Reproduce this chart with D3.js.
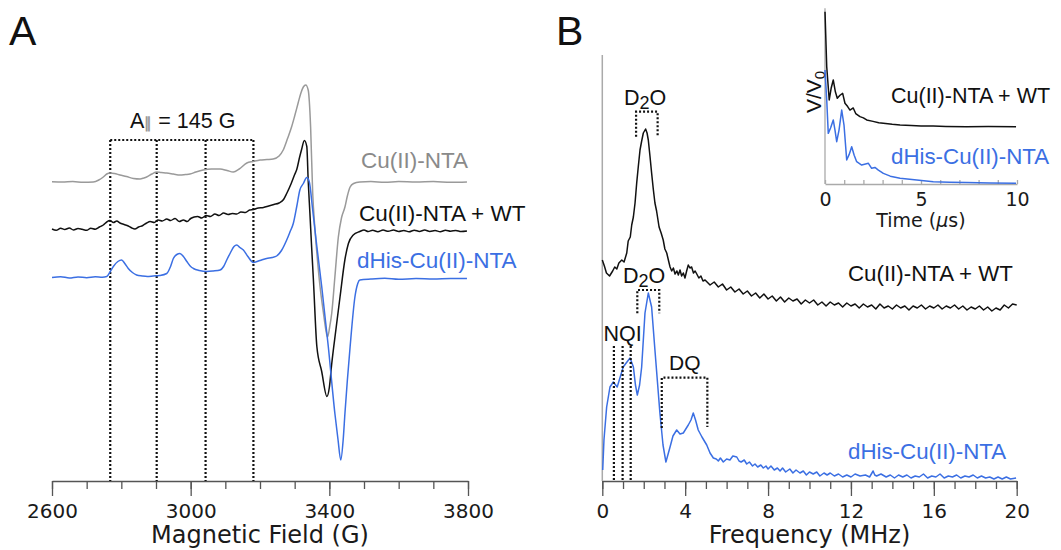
<!DOCTYPE html>
<html><head><meta charset="utf-8">
<script src="https://cdn.jsdelivr.net/npm/d3@7"></script>
<style>body{margin:0;background:#fff}svg{display:block}</style>
</head><body>
<svg id="c" width="1061" height="550"></svg>
<script>
// ---------------- DATA ----------------
const fieldMajorTicks = [2600, 3000, 3400, 3800];
const fieldMinorTicks = d3.range(2600, 3801, 100);
const freqMajorTicks = [0, 4, 8, 12, 16, 20];
const freqMinorTicks = d3.range(0, 21, 1);
const timeMajorTicks = [0, 5, 10];
const timeMinorTicks = d3.range(0, 11, 1);

const eprSeriesNames = ["Cu(II)-NTA", "Cu(II)-NTA + WT", "dHis-Cu(II)-NTA"];
const eprStackOffsets = [299, 251.5, 203.5];

// [field (G), first-derivative signal]
const eprCuNTA = [[2600,0.3],[2630,0],[2660,0.5],[2690,-0.3],[2719,0],[2735,2],[2748,5],[2758,8],[2767,9],[2780,8.5],[2796,7],[2815,5.5],[2835,3.5],[2854,3],[2865,4],[2873,5],[2888,8],[2902,10],[2915,9.5],[2931,9],[2950,8],[2969,7],[2985,7.5],[2998,8],[3015,10],[3036,12],[3060,13],[3085,13],[3105,11.5],[3123,10],[3140,13],[3162,19],[3180,20.5],[3200,22],[3220,22.5],[3238,23],[3255,26],[3267,32],[3280,44],[3291,55],[3300,66],[3310,79],[3318,89],[3325,95],[3332,97],[3339,92],[3346,55],[3352,-11],[3358,-45],[3364,-71],[3373,-104],[3383,-131],[3390,-148],[3395,-155],[3401,-145],[3407,-131],[3416,-95],[3426,-55],[3435,-36],[3445,-25],[3452,-14],[3460,-5],[3470,-1.5],[3488,0],[3520,0.5],[3560,-0.3],[3600,0.5],[3650,0],[3700,0.4],[3750,-0.3],[3797,0]];

const eprCuNTA_WT = [[2600,0.5],[2612,-0.8],[2625,1.2],[2637,0],[2650,1.5],[2662,-0.5],[2675,1],[2687,0.2],[2700,-0.8],[2712,1.3],[2725,0.3],[2737,2.5],[2748,4.5],[2758,7.5],[2767,9],[2777,7],[2787,8.5],[2796,6.5],[2808,5],[2820,3.5],[2830,1.5],[2839,0.5],[2850,2.5],[2862,4],[2873,6.5],[2883,8],[2895,7],[2906,9.5],[2918,8.5],[2931,10.5],[2942,9],[2955,11],[2967,8],[2979,9.5],[2990,8],[3000,11],[3010,12.5],[3020,13],[3032,11.5],[3045,14],[3057,13],[3070,15.5],[3082,14],[3095,16.5],[3108,15],[3120,16],[3133,15.5],[3145,17.5],[3158,17],[3170,19.5],[3181,20],[3195,21.5],[3210,22],[3225,23.5],[3240,25],[3255,26.5],[3268,30],[3277,36],[3290,46],[3300,55],[3306,60],[3314,72],[3320,80],[3328,89],[3335,83],[3339,49],[3344,16],[3349,-18],[3354,-50],[3364,-117],[3378,-142],[3393,-167],[3400,-158],[3407,-134],[3419,-100],[3431,-67],[3445,-30],[3455,-14],[3469,-5.5],[3488,-2],[3500,-0.5],[3512,-2],[3525,-0.8],[3540,-2.2],[3555,-0.6],[3570,-1.8],[3585,-0.5],[3600,-2],[3615,-1],[3630,-2.3],[3645,-0.7],[3660,-1.9],[3675,-0.6],[3690,-2],[3705,-1.1],[3720,-2.2],[3735,-0.8],[3750,-1.8],[3765,-0.9],[3780,-2],[3797,-1.5]];

const eprDHis = [[2600,0],[2625,0.8],[2650,-0.5],[2675,0.6],[2700,-0.2],[2725,0.7],[2745,0.3],[2758,1],[2768,6],[2777,11],[2790,16],[2801,17.5],[2810,14],[2820,9],[2832,5],[2844,2.5],[2860,1.5],[2875,1],[2892,1.5],[2910,2],[2931,4],[2942,11],[2950,19],[2960,23],[2969,24],[2979,21],[2989,16],[3000,11],[3008,9],[3025,7],[3046,6],[3065,6.5],[3085,7.5],[3095,11],[3104,17.5],[3115,25],[3125,31],[3133,32.5],[3142,30],[3152,27.5],[3165,21],[3181,15],[3200,17],[3219,19],[3235,20],[3248,21.5],[3262,27],[3277,37.5],[3287,46],[3296,54],[3306,71],[3315,87.5],[3325,94],[3335,100],[3342,96],[3352,67.5],[3364,31],[3378,-9],[3397,-69],[3416,-136],[3425,-162],[3433,-182.5],[3440,-162],[3445,-136],[3460,-69],[3474,-19],[3482,-6],[3488,-2.5],[3520,-1.5],[3560,-0.8],[3600,-1.8],[3650,-1],[3700,-1.6],[3750,-0.9],[3797,-1]];

const hyperfineFields = [2768, 2902, 3043, 3181];

// ESEEM spectra: [frequency (MHz), intensity]
const fftStackOffsets = [170, 0];
const fftWT = [[0,51],[0.1,45],[0.2,38],[0.35,35],[0.5,40],[0.6,44],[0.7,42],[0.8,48],[0.94,51],[1.05,49],[1.18,58],[1.25,70],[1.35,74],[1.42,86],[1.5,94],[1.58,108],[1.66,128],[1.74,145],[1.82,161],[1.9,170],[1.98,178],[2.09,182],[2.16,178],[2.22,171],[2.3,155],[2.38,138],[2.46,122],[2.54,108],[2.62,100],[2.74,84],[2.84,78],[2.94,71],[3.02,62],[3.11,58],[3.2,50],[3.27,44],[3.35,40],[3.43,43],[3.51,37],[3.6,40],[3.67,36],[3.75,41],[3.83,35],[3.91,38],[3.99,33],[4.07,40],[4.15,46],[4.23,43],[4.31,44],[4.4,38],[4.48,40],[4.56,37],[4.66,33],[4.76,35],[4.86,30],[4.96,31],[5.2,26],[5.4,29],[5.6,24],[5.8,27],[6.0,21],[6.2,24],[6.4,19],[6.6,22],[6.8,17],[7.0,20],[7.2,15],[7.4,18],[7.6,13],[7.8,17],[8.0,12],[8.2,15],[8.4,10],[8.6,14],[8.8,9],[9.0,13],[9.2,10],[9.4,12],[9.6,7],[9.8,11],[10.0,8],[10.2,11],[10.4,6],[10.6,9],[10.8,5],[11.0,9],[11.2,6],[11.4,8],[11.6,4],[11.8,8],[12.0,5],[12.2,7],[12.4,3],[12.6,7],[12.8,4],[13.0,6],[13.2,2],[13.4,7],[13.6,3],[13.8,5],[14.0,2],[14.2,6],[14.4,3],[14.6,5],[14.8,1],[15.0,5],[15.2,3],[15.4,6],[15.6,2],[15.8,5],[16.0,3],[16.2,6],[16.4,2],[16.6,5],[16.8,3],[17.0,6],[17.2,2],[17.4,5],[17.6,1],[17.8,4],[18.0,2],[18.2,5],[18.4,1],[18.6,4],[18.8,0],[19.0,3],[19.2,1],[19.4,6],[19.6,3],[19.8,7],[20.0,6]];

const fftDHis = [[0.02,11],[0.08,41],[0.21,74],[0.37,94],[0.53,99],[0.72,94],[0.85,103],[1.01,114],[1.19,119],[1.34,123],[1.5,114],[1.6,96],[1.69,86],[1.8,96],[1.9,114],[2.06,168],[2.22,188],[2.38,174],[2.54,131],[2.78,68],[2.93,36],[3.07,19],[3.27,34],[3.41,45],[3.59,51],[3.75,47],[3.91,48],[4.15,56],[4.28,61],[4.39,68],[4.5,61],[4.63,51],[4.81,44],[5.04,36],[5.2,28],[5.36,23],[5.5,22],[5.6,20],[5.7,23],[5.84,19],[6.0,22],[6.16,21],[6.3,25],[6.49,24],[6.6,20],[6.7,19],[6.85,21],[6.97,17],[7.1,19],[7.25,15],[7.37,17],[7.5,14],[7.65,16],[7.77,13],[7.9,15],[8.0,12],[8.14,15],[8.3,11],[8.45,13],[8.58,10],[8.7,13],[8.85,9],[9.05,12],[9.2,8],[9.35,11],[9.54,8],[9.7,10],[9.85,6],[10.0,9],[10.18,7],[10.35,9],[10.5,5],[10.7,8],[10.85,6],[11.0,8],[11.2,5],[11.4,7],[11.6,4],[11.8,6],[12.0,4],[12.2,7],[12.44,5],[12.7,6],[12.9,4],[13.07,10],[13.15,6],[13.24,5],[13.45,7],[13.7,4],[13.9,6],[14.1,3],[14.3,6],[14.5,4],[14.7,6],[14.9,3],[15.1,5],[15.3,4],[15.5,7],[15.7,3],[15.9,5],[16.1,4],[16.3,7],[16.5,3],[16.7,5],[16.9,4],[17.1,6],[17.3,3],[17.5,5],[17.7,4],[17.9,6],[18.1,3],[18.3,5],[18.5,3],[18.7,4],[18.9,2],[19.1,4],[19.3,2],[19.5,4],[19.7,2],[19.97,3]];

const nqiFreqs = [0.56, 0.98, 1.37];
const d2oRange = [1.66, 2.7];
const dqRange = [2.87, 5.07];

// Time-domain (inset): [time (us), V/V0]
const tdWT = [[0,0.99],[0.09,0.674],[0.22,0.483],[0.32,0.55],[0.43,0.598],[0.54,0.53],[0.64,0.493],[0.78,0.51],[0.92,0.521],[1.04,0.464],[1.18,0.445],[1.3,0.425],[1.47,0.437],[1.6,0.405],[1.82,0.387],[2.0,0.38],[2.17,0.368],[2.5,0.36],[2.8,0.352],[3.04,0.349],[3.5,0.343],[3.91,0.339],[4.5,0.336],[5.0,0.334],[5.64,0.333],[6.3,0.331],[7.38,0.329],[8.5,0.33],[9.95,0.329]];
const tdDHis = [[0,0.655],[0.09,0.483],[0.17,0.291],[0.29,0.322],[0.43,0.368],[0.52,0.31],[0.61,0.243],[0.73,0.31],[0.87,0.425],[0.99,0.339],[1.13,0.138],[1.26,0.17],[1.39,0.214],[1.52,0.165],[1.65,0.128],[1.91,0.109],[2.26,0.119],[2.43,0.09],[2.6,0.095],[2.78,0.08],[3.04,0.061],[3.4,0.045],[3.91,0.033],[4.78,0.023],[5.64,0.013],[6.5,0.01],[7.38,0.008],[8.6,0.006],[9.95,0.004]];

// ---------------- DRAWING ----------------
const svg = d3.select("#c");
const AX = "DejaVu Sans, sans-serif";
const LB = "Liberation Sans, Arial, Helvetica, sans-serif";
const BLUE = "#3b6fe3", GRAY = "#9a9a9a", GRAYTXT = "#8a8a8a", BLACK = "#111";

const xA = d3.scaleLinear().domain([2600, 3800]).range([52, 468]);
const yA = d3.scaleLinear().domain([0, 450]).range([481, 31]);
const xB = d3.scaleLinear().domain([0, 20]).range([602.3, 1016.7]);
const yB = d3.scaleLinear().domain([0, 426]).range([481, 55]);
const xI = d3.scaleLinear().domain([0, 10]).range([825, 1017]);
const yI = d3.scaleLinear().domain([0, 1]).range([184, 10]);

function styleAxis(g, color) {
  g.select(".domain").attr("stroke", color).attr("stroke-width", 1.3);
  g.selectAll(".tick line").attr("stroke", color).attr("stroke-width", 1.3);
  g.selectAll(".tick text").attr("fill", "#1a1a1a");
}

function bottomAxis(scale, minor, major, y, fs) {
  const g1 = svg.append("g").attr("transform", `translate(0,${y})`)
    .call(d3.axisBottom(scale).tickValues(minor).tickSize(8).tickSizeOuter(0).tickFormat(""));
  styleAxis(g1, "#555");
  const g2 = svg.append("g").attr("transform", `translate(0,${y})`)
    .call(d3.axisBottom(scale).tickValues(major).tickSize(15).tickSizeOuter(0).tickPadding(8).tickFormat(d3.format("d")));
  g2.select(".domain").remove();
  styleAxis(g2, "#555");
  g2.selectAll(".tick text").attr("font-family", AX).attr("font-size", fs);
}

// Panel A
bottomAxis(xA, fieldMinorTicks, fieldMajorTicks, 481, 20);
svg.append("text").attr("x", 260).attr("y", 543).attr("text-anchor", "middle")
  .attr("font-family", AX).attr("font-size", 24).attr("fill", "#1a1a1a").text("Magnetic Field (G)");

// dotted hyperfine lines
const dot = sel => sel.attr("stroke", "#111").attr("stroke-width", 2.2).attr("stroke-dasharray", "2,2").attr("fill", "none");
const topVal = 341;
svg.append("g").selectAll("line").data(hyperfineFields).join("line")
  .attr("x1", d => xA(d)).attr("x2", d => xA(d)).attr("y1", yA(topVal)).attr("y2", yA(0)).call(dot);
svg.append("line").attr("x1", xA(hyperfineFields[0])).attr("x2", xA(hyperfineFields[3]))
  .attr("y1", yA(topVal)).attr("y2", yA(topVal)).call(dot);

const lineA = (off) => d3.line().x(d => xA(d[0])).y(d => yA(d[1] + off)).curve(d3.curveMonotoneX);
const eprData = [eprCuNTA, eprCuNTA_WT, eprDHis];
const eprColors = [GRAY, BLACK, BLUE];
eprData.forEach((s, i) => {
  svg.append("path").datum(s).attr("d", lineA(eprStackOffsets[i])).attr("fill", "none")
    .attr("stroke", eprColors[i]).attr("stroke-width", 1.5).attr("stroke-linejoin", "round");
});

const aLabel = svg.append("text").attr("x", 130).attr("y", 128).attr("font-family", LB).attr("font-size", 21.5).attr("fill", "#111");
aLabel.append("tspan").text("A");
aLabel.append("tspan").attr("fill", "#999").attr("font-size", 15).attr("font-weight", "bold").text("\u2225");
aLabel.append("tspan").text(" = 145 G");

const eprLabelColors = [GRAYTXT, BLACK, BLUE];
const eprLabelY = [168, 221, 268];
const eprLabelX = [361, 359, 357];
eprSeriesNames.forEach((n, i) => {
  svg.append("text").attr("x", eprLabelX[i]).attr("y", eprLabelY[i]).attr("font-family", LB)
    .attr("font-size", 22.5).attr("fill", eprLabelColors[i]).text(n);
});

svg.append("text").attr("x", 9).attr("y", 45).attr("font-family", LB).attr("font-size", 41).attr("fill", "#111").text("A");
svg.append("text").attr("x", 556).attr("y", 45).attr("font-family", LB).attr("font-size", 41).attr("fill", "#111").text("B");

// Panel B
bottomAxis(xB, freqMinorTicks, freqMajorTicks, 481, 20);
svg.append("line").attr("x1", xB(0)).attr("x2", xB(0)).attr("y1", yB(426)).attr("y2", yB(0))
  .attr("stroke", "#aaa").attr("stroke-width", 1.5);
svg.append("text").attr("x", 809.5).attr("y", 543).attr("text-anchor", "middle")
  .attr("font-family", AX).attr("font-size", 24).attr("fill", "#1a1a1a").text("Frequency (MHz)");

const lineB = (off) => d3.line().x(d => xB(d[0])).y(d => yB(d[1] + off));
svg.append("path").datum(fftWT).attr("d", lineB(fftStackOffsets[0])).attr("fill", "none")
  .attr("stroke", BLACK).attr("stroke-width", 1.5).attr("stroke-linejoin", "round");
svg.append("path").datum(fftDHis).attr("d", lineB(fftStackOffsets[1])).attr("fill", "none")
  .attr("stroke", BLUE).attr("stroke-width", 1.5).attr("stroke-linejoin", "round");

// brackets
function bracket(x0, x1, top, b0, b1) {
  svg.append("path").attr("d", `M${xB(x0)},${yB(b0)}V${yB(top)}H${xB(x1)}V${yB(b1)}`).call(dot);
}
bracket(d2oRange[0] - 0.03, d2oRange[1] - 0.03, 369.3, 344.3, 344.3);
bracket(d2oRange[0] + 0.03, d2oRange[1] + 0.05, 191, 167.7, 167.7);
bracket(dqRange[0], dqRange[1], 103.3, 53, 54);
svg.append("g").selectAll("line").data(nqiFreqs).join("line")
  .attr("x1", d => xB(d)).attr("x2", d => xB(d)).attr("y1", yB(135)).attr("y2", yB(0)).call(dot);

function d2oText(x, y) {
  const t = svg.append("text").attr("x", x).attr("y", y).attr("font-family", LB).attr("font-size", 21.5).attr("fill", "#111");
  t.append("tspan").text("D");
  t.append("tspan").attr("dy", 4).attr("font-size", 18).text("2");
  t.append("tspan").attr("dy", -4).text("O");
}
d2oText(624, 105);
d2oText(623, 282.5);
svg.append("text").attr("x", 603.5).attr("y", 341).attr("font-family", LB).attr("font-size", 21.5).attr("fill", "#111").text("NQI");
svg.append("text").attr("x", 669).attr("y", 370).attr("font-family", LB).attr("font-size", 21).attr("fill", "#111").text("DQ");

svg.append("text").attr("x", 848).attr("y", 281).attr("font-family", LB).attr("font-size", 22.3).attr("fill", BLACK).text("Cu(II)-NTA + WT");
svg.append("text").attr("x", 848).attr("y", 459).attr("font-family", LB).attr("font-size", 22.3).attr("fill", BLUE).text("dHis-Cu(II)-NTA");

// Inset
const gi1 = svg.append("g").attr("transform", `translate(0,184)`)
  .call(d3.axisBottom(xI).tickValues(timeMinorTicks).tickSize(-4).tickSizeOuter(0).tickFormat(""));
styleAxis(gi1, "#aaa");
const gi2 = svg.append("g").attr("transform", `translate(0,184)`)
  .call(d3.axisBottom(xI).tickValues(timeMajorTicks).tickSize(0).tickPadding(9).tickFormat(d3.format("d")));
gi2.select(".domain").remove();
gi2.selectAll(".tick text").attr("font-family", AX).attr("font-size", 19).attr("fill", "#1a1a1a");
svg.append("line").attr("x1", xI(0)).attr("x2", xI(0)).attr("y1", yI(1.01)).attr("y2", yI(0))
  .attr("stroke", "#aaa").attr("stroke-width", 1.3);

const tl = svg.append("text").attr("x", 921).attr("y", 227).attr("text-anchor", "middle")
  .attr("font-family", AX).attr("font-size", 19).attr("fill", "#1a1a1a");
tl.append("tspan").text("Time (");
tl.append("tspan").attr("font-style", "italic").text("\u03bc");
tl.append("tspan").text("s)");

const vl = svg.append("text").attr("transform", "translate(821,92) rotate(-90)").attr("text-anchor", "middle")
  .attr("font-family", LB).attr("font-size", 21).attr("fill", "#111");
vl.append("tspan").text("V/V");
vl.append("tspan").attr("dy", 4).attr("font-size", 15).text("0");

const lineI = d3.line().x(d => xI(d[0])).y(d => yI(d[1]));
svg.append("path").datum(tdWT).attr("d", lineI).attr("fill", "none").attr("stroke", BLACK).attr("stroke-width", 1.5).attr("stroke-linejoin", "round");
svg.append("path").datum(tdDHis).attr("d", lineI).attr("fill", "none").attr("stroke", BLUE).attr("stroke-width", 1.5).attr("stroke-linejoin", "round");

svg.append("text").attr("x", 891).attr("y", 103).attr("font-family", LB).attr("font-size", 21.5).attr("fill", BLACK).text("Cu(II)-NTA + WT");
svg.append("text").attr("x", 891).attr("y", 164).attr("font-family", LB).attr("font-size", 22.3).attr("fill", BLUE).text("dHis-Cu(II)-NTA");
</script>
</body></html>
